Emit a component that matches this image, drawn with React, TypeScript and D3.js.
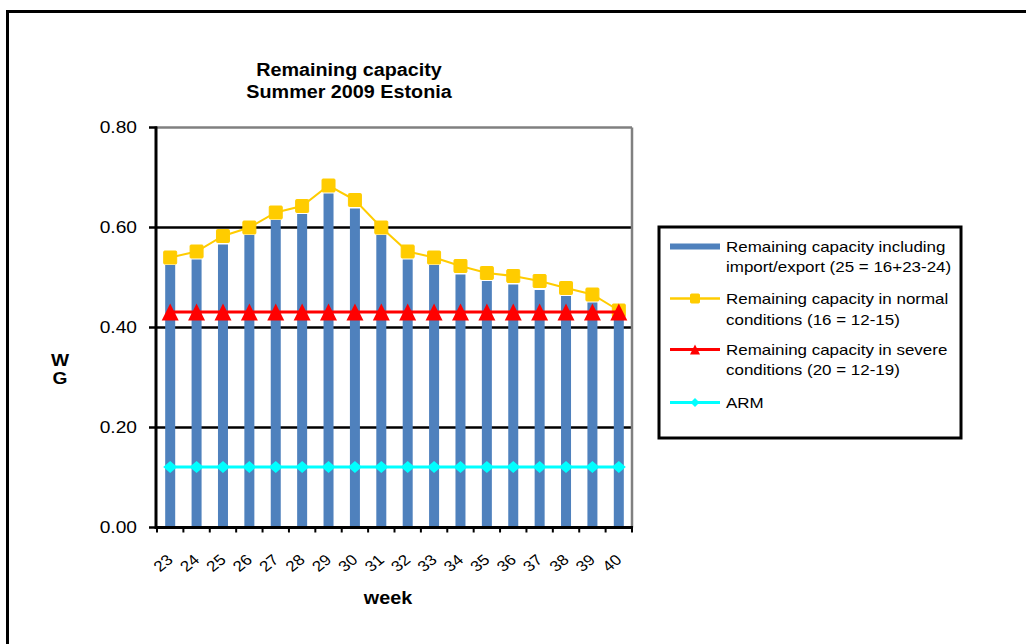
import React from "react";
import * as d3 from "d3";

const weeks = ["23","24","25","26","27","28","29","30","31","32","33","34","35","36","37","38","39","40"];
const importExport = [0.525,0.536,0.566,0.585,0.615,0.627,0.668,0.638,0.585,0.536,0.525,0.506,0.493,0.486,0.475,0.463,0.45,0.42];
const normal = [0.54,0.552,0.583,0.6,0.63,0.643,0.684,0.655,0.6,0.552,0.54,0.523,0.509,0.503,0.493,0.479,0.466,0.434];
const severe = [0.431,0.431,0.431,0.431,0.431,0.431,0.431,0.431,0.431,0.431,0.431,0.431,0.431,0.431,0.431,0.431,0.431,0.431];
const arm = [0.121,0.121,0.121,0.121,0.121,0.121,0.121,0.121,0.121,0.121,0.121,0.121,0.121,0.121,0.121,0.121,0.121,0.121];
const yTicks = [0, 0.2, 0.4, 0.6, 0.8];
const titleLines = ["Remaining capacity", "Summer 2009  Estonia"];
const legendItems = [
  { key: "bar", lines: ["Remaining capacity including", "import/export (25 = 16+23-24)"] },
  { key: "normal", lines: ["Remaining capacity in normal", "conditions (16 = 12-15)"] },
  { key: "severe", lines: ["Remaining capacity in severe", "conditions (20 = 12-19)"] },
  { key: "arm", lines: ["ARM"] },
];

const FONT = "'Liberation Sans', Arial, Helvetica, sans-serif";
const SX = 1.13;
const BLUE = "#4F81BD";
const YELLOW = "#FFCC00";
const RED = "#FF0000";
const CYAN = "#00FFFF";

function T({ x, y, size, bold, anchor = "start", children }: any) {
  return (
    <text
      transform={`translate(${x},${y}) scale(${SX},1)`}
      fontFamily={FONT}
      fontSize={size}
      fontWeight={bold ? "bold" : "normal"}
      textAnchor={anchor}
      dominantBaseline="central"
      fill="#000"
    >
      {children}
    </text>
  );
}

function Square({ cx, cy, s }: any) {
  return <rect x={cx - s / 2} y={cy - s / 2} width={s} height={s} fill={YELLOW} stroke={YELLOW} strokeWidth={1} rx={1} />;
}
function Tri({ cx, cy, w, h }: any) {
  return <path d={`M${cx},${cy - h / 2}L${cx + w / 2},${cy + h / 2}L${cx - w / 2},${cy + h / 2}Z`} fill={RED} />;
}
function Diamond({ cx, cy, w, h }: any) {
  return <path d={`M${cx},${cy - h / 2}L${cx + w / 2},${cy}L${cx},${cy + h / 2}L${cx - w / 2},${cy}Z`} fill={CYAN} />;
}

export default function App() {
  const left = 157, right = 632, top = 127.5, bottom = 527.5;
  const x = d3.scaleBand<string>().domain(weeks).range([left, right]).padding(0);
  const y = d3.scaleLinear().domain([0, 0.8]).range([bottom, top]);
  const cx = (w: string) => (x(w) as number) + x.bandwidth() / 2;
  const line = d3.line<number>().x((_, i) => cx(weeks[i])).y((v) => y(v));
  const barW = 10;

  const lg = { x: 659, y: 227, w: 302, h: 211 };
  const legendRows = [
    { sym: 246.5, lines: [246.5, 266.5] },
    { sym: 298.5, lines: [298.5, 319.5] },
    { sym: 349.5, lines: [349.5, 370] },
    { sym: 402.5, lines: [402.5] },
  ];

  return (
    <svg width={1026} height={644} style={{ position: "absolute", left: 0, top: 0, background: "#fff" }}>
      <rect x={0} y={0} width={1026} height={644} fill="#fff" />
      {/* outer frame */}
      <rect x={7.5} y={11.5} width={1030} height={650} fill="none" stroke="#000" strokeWidth={3} />

      {/* title */}
      {titleLines.map((t, i) => (
        <T key={i} x={349} y={70 + i * 21.5} size={17.5} bold anchor="middle">{t}</T>
      ))}

      {/* gridlines */}
      {yTicks.filter((t) => t > 0 && t < 0.8).map((t) => (
        <line key={t} x1={left} x2={right} y1={y(t)} y2={y(t)} stroke="#000" strokeWidth={2.5} />
      ))}
      {/* plot border top/right */}
      <line x1={left} x2={right} y1={y(0.8)} y2={y(0.8)} stroke="#808080" strokeWidth={2.5} />
      <line x1={right} x2={right} y1={y(0.8)} y2={bottom} stroke="#808080" strokeWidth={2.5} />

      {/* bars */}
      {weeks.map((w, i) => (
        <rect key={w} x={cx(w) - barW / 2} y={y(importExport[i])} width={barW} height={bottom - y(importExport[i])} fill={BLUE} />
      ))}

      {/* axes */}
      <line x1={left - 1} x2={left - 1} y1={y(0.8) - 1} y2={bottom + 1.5} stroke="#000" strokeWidth={3} />
      <line x1={left - 2} x2={right + 1} y1={bottom} y2={bottom} stroke="#000" strokeWidth={3} />
      {yTicks.map((t) => (
        <g key={t}>
          <line x1={left - 8} x2={left} y1={y(t)} y2={y(t)} stroke="#000" strokeWidth={2.5} />
          <T x={137} y={y(t)} size={17} anchor="end">{t.toFixed(2)}</T>
        </g>
      ))}
      {weeks.concat(["end"]).map((w, i) => {
        const xx = left + i * x.bandwidth();
        return <line key={"t" + i} x1={xx} x2={xx} y1={bottom} y2={bottom + 5} stroke="#000" strokeWidth={2} />;
      })}
      {weeks.map((w) => (
        <text
          key={"l" + w}
          transform={`translate(${cx(w) - 7},${563}) scale(${SX},1) rotate(-42)`}
          fontFamily={FONT}
          fontSize={15}
          textAnchor="middle"
          dominantBaseline="central"
        >
          {w}
        </text>
      ))}
      <T x={388} y={598} size={17.5} bold anchor="middle">week</T>
      <T x={60} y={360} size={17} bold anchor="middle">W</T>
      <T x={60} y={378} size={17} bold anchor="middle">G</T>

      {/* lines */}
      <path d={line(normal) || ""} fill="none" stroke={YELLOW} strokeWidth={2} />
      {weeks.map((w, i) => <Square key={"n" + w} cx={cx(w)} cy={y(normal[i])} s={13} />)}
      <path d={line(severe) || ""} fill="none" stroke={RED} strokeWidth={3} />
      {weeks.map((w, i) => <Tri key={"s" + w} cx={cx(w)} cy={y(severe[i])} w={17} h={17} />)}
      <path d={line(arm) || ""} fill="none" stroke={CYAN} strokeWidth={3} />
      {weeks.map((w, i) => <Diamond key={"a" + w} cx={cx(w)} cy={y(arm[i])} w={14} h={12} />)}

      {/* legend */}
      <rect x={lg.x} y={lg.y} width={lg.w} height={lg.h} fill="#fff" stroke="#000" strokeWidth={3} />
      {legendItems.map((it, k) => {
        const r = legendRows[k];
        const sx0 = 670, sx1 = 720, mid = 695;
        return (
          <g key={it.key}>
            {it.key === "bar" && <rect x={sx0} y={r.sym - 3} width={sx1 - sx0} height={6} fill={BLUE} />}
            {it.key === "normal" && (
              <g>
                <line x1={sx0} x2={sx1} y1={r.sym} y2={r.sym} stroke={YELLOW} strokeWidth={2.5} />
                <Square cx={mid} cy={r.sym} s={9} />
              </g>
            )}
            {it.key === "severe" && (
              <g>
                <line x1={sx0} x2={sx1} y1={r.sym} y2={r.sym} stroke={RED} strokeWidth={3} />
                <Tri cx={mid} cy={r.sym} w={10} h={10} />
              </g>
            )}
            {it.key === "arm" && (
              <g>
                <line x1={sx0} x2={sx1} y1={r.sym} y2={r.sym} stroke={CYAN} strokeWidth={3} />
                <Diamond cx={mid} cy={r.sym} w={9} h={9} />
              </g>
            )}
            {it.lines.map((t, j) => (
              <T key={j} x={726} y={r.lines[j]} size={15} anchor="start">{t}</T>
            ))}
          </g>
        );
      })}
    </svg>
  );
}
